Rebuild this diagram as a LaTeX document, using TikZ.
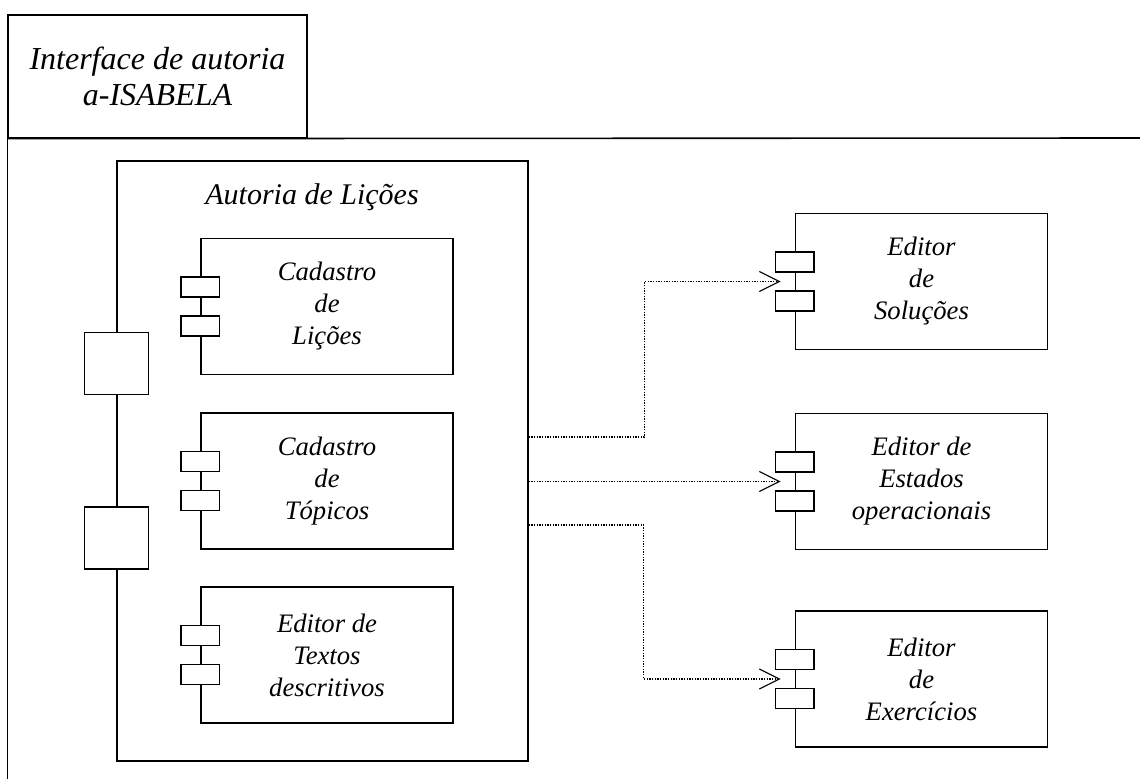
\documentclass[tikz,border=0pt]{standalone}
\usepackage{fontspec}
\setmainfont{Liberation Serif}
\usetikzlibrary{arrows.meta,calc}

\begin{document}
\begin{tikzpicture}[x=0.75pt,y=-0.75pt,
  comp/.style={draw, line width=1.2pt, align=center, inner sep=0pt, minimum width=189pt, minimum height=102pt, font=\fontsize{20}{24}\selectfont\itshape},
  port/.style={draw, line width=1.2pt, fill=white, inner sep=0pt, minimum width=29pt, minimum height=15pt},
  iface/.style={draw, line width=1.2pt, fill=white, inner sep=0pt, minimum width=48pt, minimum height=46.5pt},
  dep/.style={densely dotted, line width=1pt, -{Straight Barb[length=15pt,width=15pt,line width=0.9pt]}, shorten >=10.5pt}]
\useasboundingbox (0,0) rectangle (1140,779);
\node[draw, line width=1.2pt, align=center, inner sep=0pt, minimum width=224pt, minimum height=92pt, font=\fontsize{24}{27}\selectfont\itshape] (tab) at (157.5,76.5) {Interface de autoria\\a-ISABELA};
\draw[line width=1.2pt] (tab.south west) -- ++(0,641);
\draw[line width=1.2pt] (tab.south west) -- (1140,138);
\node[draw, line width=1.2pt, inner sep=0pt, minimum width=308pt, minimum height=450pt] (aut) at (322.5,461) {};
\node[font=\fontsize{22.5}{27}\selectfont\itshape] (autt) at (312,197) {Autoria de Lições};
\node[iface] (if1) at ($(aut.west)+(0,-97.5)$) {};
\node[iface] (if2) at ($(aut.west)+(0,77)$) {};
\node[comp] (lic) at (327,306.5) {Cadastro\\de\\Lições};
\node[comp] (top) at (327,481) {Cadastro\\de\\Tópicos};
\node[comp] (txt) at (327,655) {Editor de\\Textos\\descritivos};
\node[comp] (sol) at (921.5,281.5) {Editor\\de\\Soluções};
\node[comp] (est) at (921.5,481.5) {Editor de\\Estados\\operacionais};
\node[comp] (exe) at (921.5,679) {Editor\\de\\Exercícios};
\foreach \c in {lic,top,txt,sol,est,exe} {
  \node[port] (\c-p1) at ($(\c.west)+(0,-19.5)$) {};
  \node[port] (\c-p2) at ($(\c.west)+(0,19.5)$) {};
}
\draw[dep] ($(aut.east)+(0,-24)$) -- ++(116,0) |- (sol.west);
\draw[dep] (aut.east |- est.west) -- (est.west);
\draw[dep] ($(aut.east)+(0,64)$) -- ++(115,0) |- (exe.west);
\end{tikzpicture}
\end{document}
